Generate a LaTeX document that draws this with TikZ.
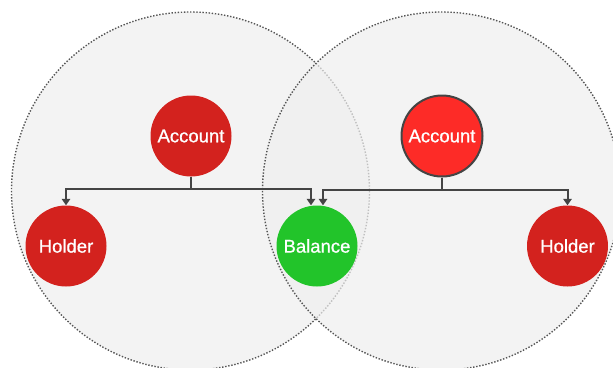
\documentclass[tikz,border=0pt]{standalone}
\usepackage{fontspec}
\setmainfont{Liberation Sans}
\newfontfamily\nodefont[FakeBold=0.8]{Liberation Sans}
\usetikzlibrary{arrows.meta}
\definecolor{accred}{HTML}{D3221E}
\definecolor{accbright}{HTML}{FD2B27}
\definecolor{balgreen}{HTML}{22C42A}
\definecolor{linegray}{HTML}{444444}
\definecolor{zonegray}{HTML}{EEEEEE}
\definecolor{dotgray}{HTML}{555555}
\begin{document}
\begin{tikzpicture}[x=1pt,y=-1pt,
  ent/.style={circle,minimum size=81pt,inner sep=0pt,text=white,font=\nodefont\fontsize{18.5}{20}\selectfont},
  link/.style={draw=linegray,line width=2pt,-{Triangle[length=6.5pt,width=8.5pt]}},
  zone/.style={draw=dotgray,fill=zonegray,fill opacity=0.7,line width=1.4pt,dash pattern=on 1.4pt off 1.7pt}]
\pgfmathsetmacro{\R}{179}
\useasboundingbox (0,0) rectangle (613,367);
\clip (0,0) rectangle (613,367);
\draw[zone] (190.5,191) circle (\R);
\draw[zone] (441.5,191) circle (\R);
\node[ent,fill=accred] (accL) at (191,136) {Account};
\node[ent,fill=accbright,draw=linegray,line width=2pt] (accR) at (442,136) {Account};
\node[ent,fill=accred] (holdL) at (66,246) {Holder};
\node[ent,fill=balgreen] (bal) at (317,246) {Balance};
\node[ent,fill=accred] (holdR) at (567.5,246) {Holder};
\draw[link] (accL.south) -- ++(0,12.5) -| (holdL.north);
\draw[link] (accL.south) -- ++(0,12.5) -| ([xshift=-6pt]bal.north);
\draw[link] (accR.south) -- ++(0,12.5) -| ([xshift=6pt]bal.north);
\draw[link] (accR.south) -- ++(0,12.5) -| (holdR.north);
\end{tikzpicture}
\end{document}
